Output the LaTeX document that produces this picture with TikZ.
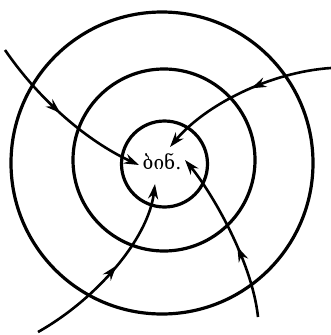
\documentclass[tikz,border=0pt]{standalone}
\usepackage{fontspec}
\newfontfamily\geofont{DejaVu Serif}
\usetikzlibrary{arrows.meta,decorations.markings}
\begin{document}
\begin{tikzpicture}[x=1pt,y=-1pt,
  ring/.style={line width=3.2pt},
  flow/.style={line width=2.6pt,-{Stealth[length=15pt,width=10pt]}},
  midtip/.style={postaction={decorate},decoration={markings,
    mark=at position #1 with {\arrow{Stealth[length=15pt,width=10pt]}}}}]
\useasboundingbox (0,0) rectangle (331,335);
\draw[ring] (162,163) circle[radius=151];
\draw[ring] (164,160) circle[radius=91];
\draw[ring] (164.5,164) circle[radius=43];
\node[font=\geofont\fontsize{19}{21}\selectfont] (c) at (162,162) {ბინ.};
\coordinate (s1) at (5,50);    \coordinate (e1) at (139,165);
\coordinate (s2) at (331,68);  \coordinate (e2) at (170,147);
\coordinate (s3) at (38,332);  \coordinate (e3) at (155,184);
\coordinate (s4) at (258,317); \coordinate (e4) at (185,160);
\draw[flow,midtip=0.47] (s1) .. controls (45,108) and (95,145) .. (e1);
\draw[flow,midtip=0.45] (s2) .. controls (270,72) and (205,105) .. (e2);
\draw[flow,midtip=0.53] (s3) .. controls (95,300) and (148,240) .. (e3);
\draw[flow,midtip=0.42] (s4) .. controls (252,260) and (210,190) .. (e4);
\end{tikzpicture}
\end{document}
